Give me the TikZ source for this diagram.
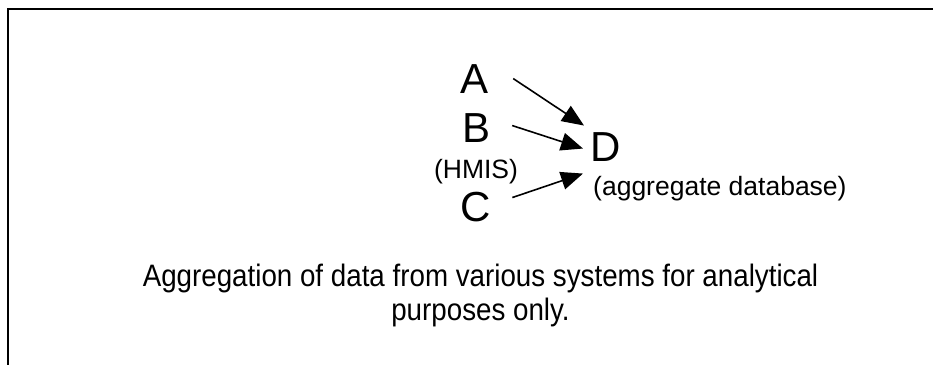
\documentclass[tikz,border=0pt]{standalone}
\usepackage{fontspec}
\setmainfont{Liberation Sans}
\usetikzlibrary{arrows.meta,calc}

\tikzset{
  letter/.style={inner sep=0pt, anchor=base, font=\fontsize{42}{48}\selectfont},
  note/.style={inner sep=0pt, anchor=base, font=\fontsize{26.5}{30}\selectfont},
  caption/.style={inner sep=0pt, anchor=north, align=center, font=\fontsize{31}{34}\selectfont},
  feed/.style={line width=1.6pt, -{Triangle[length=22pt,width=18pt]}},
  frame/.style={line width=2pt, line cap=rect}
}
% slightly narrowed caption lines
\newcommand\capline[1]{\scalebox{0.895}[1]{#1}}

\begin{document}
\begin{tikzpicture}[x=1pt, y=-1pt]
  \useasboundingbox (0,0) rectangle (933,364);

  % frame (top and left edges)
  \draw[frame] (7.5,364) -- (7.5,9) -- (933,9);

  % source systems
  \node[letter] (A) at (474,93) {A};
  \node[letter] (B) at (476,142) {B};
  \node[note]   (H) at (476,178) {(HMIS)};
  \node[letter] (C) at (476,221) {C};

  % target database
  \node[letter, anchor=base west] (D) at (590,161) {D};
  \node[note, anchor=base west] (Dn) at (593,195) {(aggregate database)};

  % feeds into the aggregate database
  \draw[feed] ($(A.east)+(25,0)$) -- ($(D.west)+(-6,-21)$);
  \draw[feed] ($(B.east)+(22,-2)$) -- ($(D.west)+(-7,2)$);
  \draw[feed] ($(C.east)+(21,-9)$) -- ($(D.west)+(-7,27)$);

  % caption
  \node[caption] (cap) at (480.5,264)
    {\capline{Aggregation of data from various systems for analytical}\\
     \capline{purposes only.}};
\end{tikzpicture}
\end{document}
